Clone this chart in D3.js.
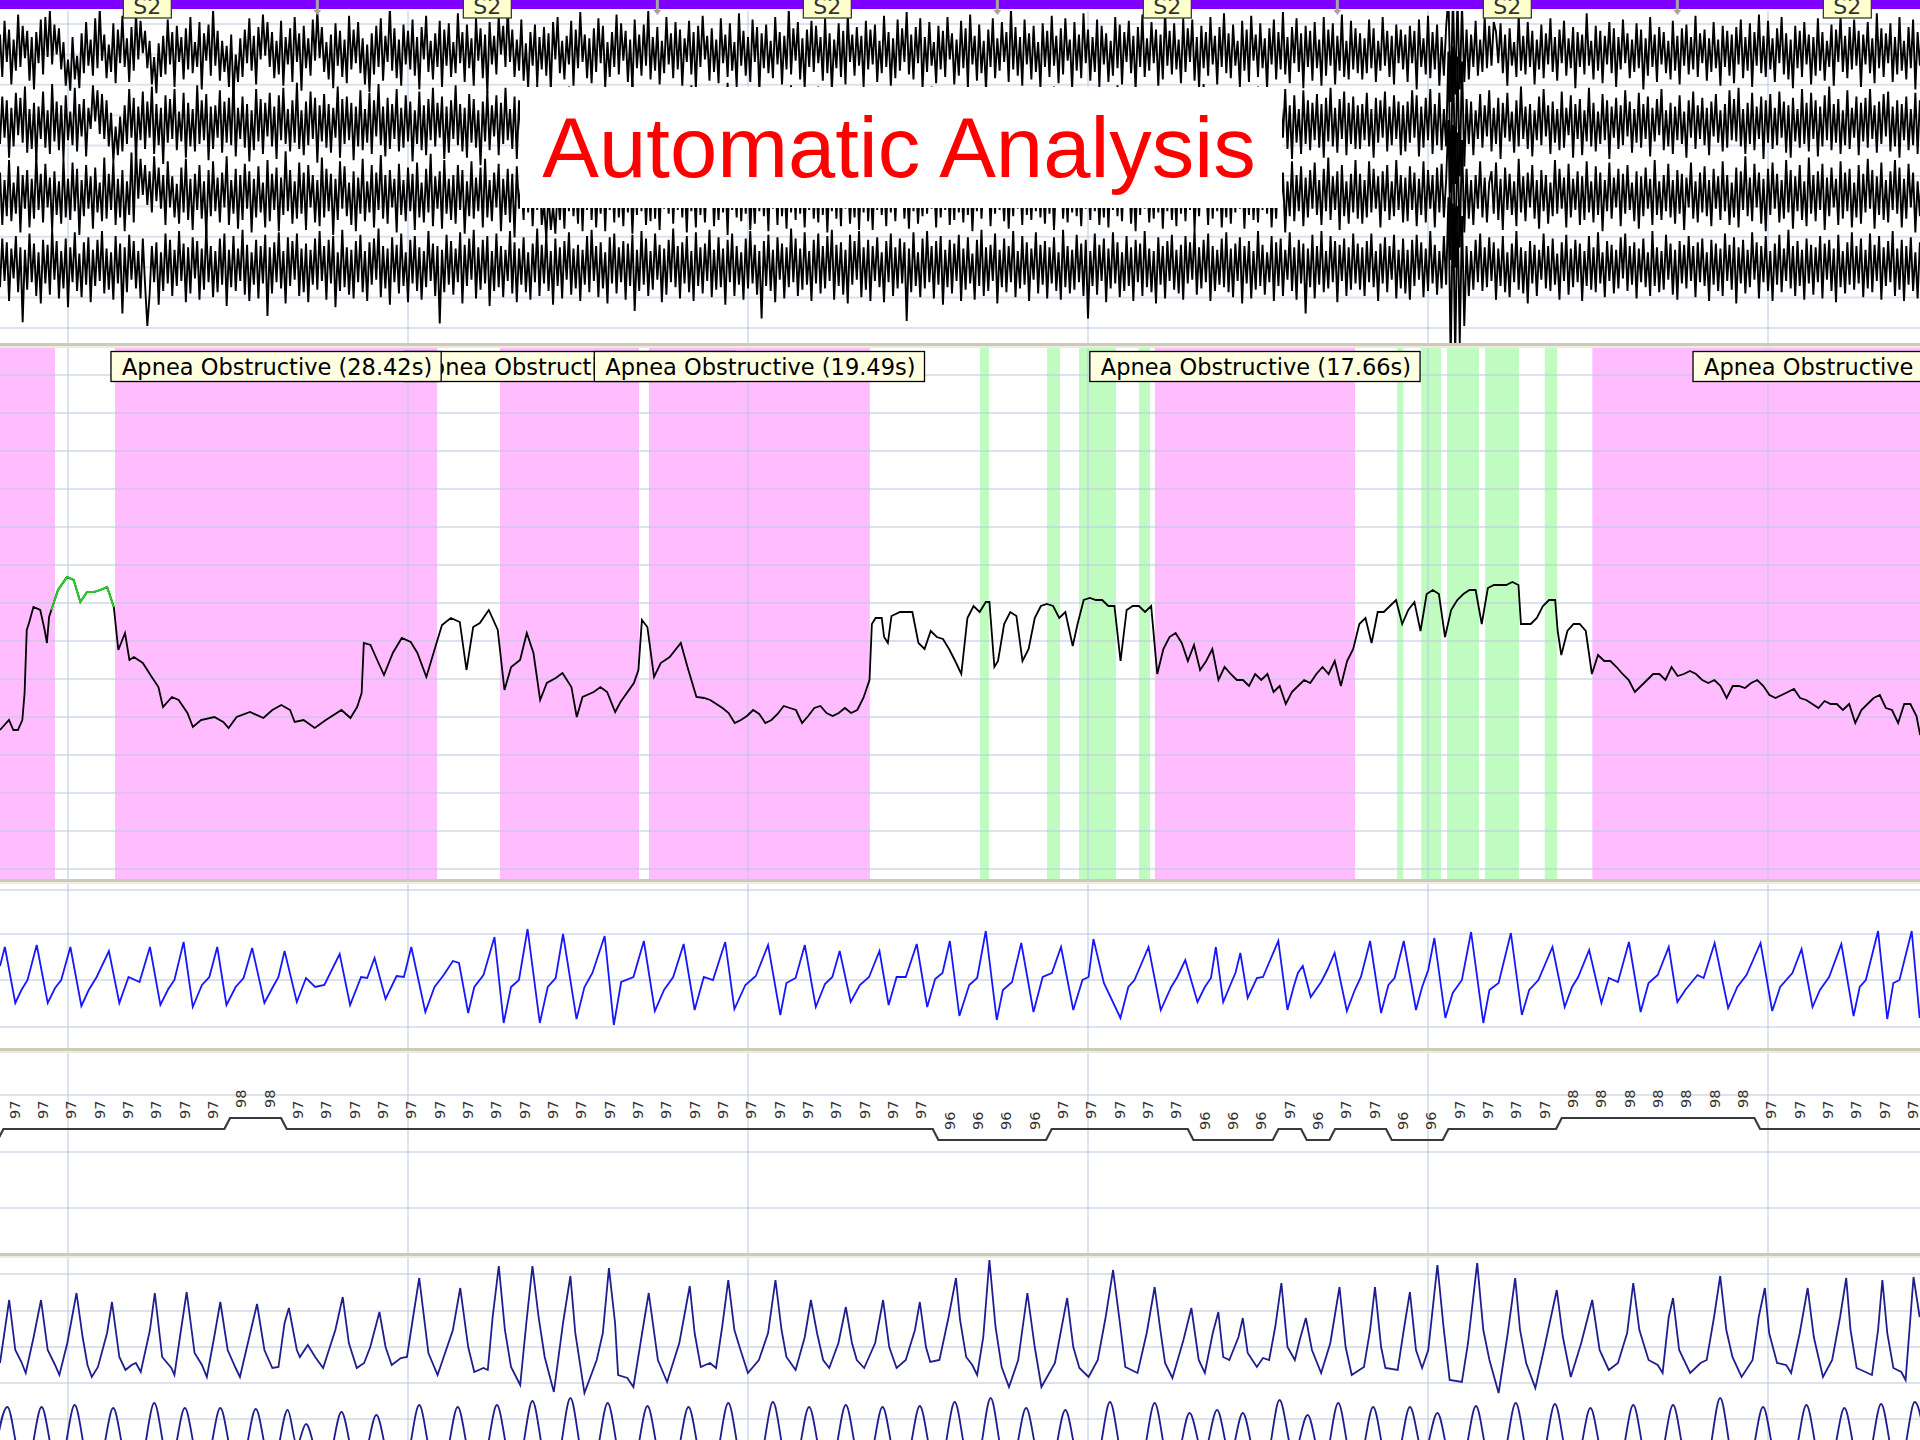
<!DOCTYPE html>
<html>
<head>
<meta charset="utf-8">
<script src="https://cdn.jsdelivr.net/npm/d3@7"></script>
<style>
html, body { margin: 0; padding: 0; background: #fff; }
svg { display: block; }
</style>
</head>
<body>
<svg id="chart" width="1920" height="1440"></svg>
<script>
// ---------------- recording data (time in seconds from the left edge) ----------------
const windowSeconds = 169.41;

// sleep staging, one label per 30 s epoch
const epochStarts = [-2, 28, 58, 88, 118, 148];
const epochStages = ["S2", "S2", "S2", "S2", "S2", "S2"];

// time grid
const gridSeconds = [6, 36, 66, 96, 126, 156];

// scored respiratory events
const apneaType = "Apnea Obstructive";
const apneaStarts = [-37.65, 10.15, 44.12, 57.26, 101.9, 140.5];
const apneaDurations = [42.5, 28.42, 12.27, 19.49, 17.66, 46.9];

// arousal markers
const arousalStarts = [86.47, 92.38, 95.21, 100.5, 123.27, 125.4, 127.68, 131.03, 136.3];
const arousalDurations = [0.79, 1.15, 3.26, 0.97, 0.53, 1.75, 2.82, 3.0, 1.1];

// nasal pressure [t, value]; the marked span is drawn in green
const flowMarkedSpan = [4.5, 10.05];
const flow = [[0,10],[0.79,20],[1.18,10],[1.58,10],[1.97,20],[2.17,47],[2.36,110],[2.56,117],[2.95,133],[3.55,130],[3.94,110],[4.14,97],[4.33,123],[4.53,130],[5.12,150],[5.91,163],[6.5,160],[7.09,138],[7.68,148],[8.27,148],[8.86,150],[9.45,153],[10.04,133],[10.44,90],[11.03,107],[11.42,80],[11.82,83],[12.6,77],[13.39,63],[13.98,53],[14.38,33],[15.17,43],[15.76,40],[16.54,27],[17.02,13],[17.73,20],[18.91,23],[19.7,18],[20.17,12],[20.88,23],[22.06,28],[23.24,22],[24.03,30],[24.82,35],[25.6,30],[26,18],[26.79,20],[27.77,12],[28.75,20],[30.13,30],[30.92,22],[31.51,33],[31.91,47],[32.1,97],[32.69,95],[33.28,80],[33.88,65],[34.66,87],[35.45,102],[36.24,98],[36.83,87],[37.62,63],[38.41,93],[39,115],[39.78,122],[40.57,118],[41.16,70],[41.75,113],[42.34,117],[43.13,130],[43.92,110],[44.51,50],[45.1,73],[45.89,80],[46.48,107],[47.07,87],[47.66,40],[48.25,57],[49.04,62],[49.63,67],[50.42,53],[50.89,23],[51.4,43],[52.39,48],[52.98,53],[53.57,48],[54.28,28],[54.75,38],[55.93,57],[56.33,70],[56.64,120],[57.12,113],[57.71,63],[58.3,77],[59.09,83],[60.07,97],[60.66,73],[61.45,43],
[62.13,42],[62.67,40],[63.21,36],[63.75,32],[64.29,27],[64.83,17],[65.37,20],[65.91,24],[66.45,30],[66.99,26],[67.53,17],[68.07,20],[68.61,26],[69.15,34],[69.69,32],[70.23,30],[70.77,17],[71.31,24],[71.85,32],[72.39,34],[72.93,27],[73.47,24],[74.01,27],[74.55,32],[75.09,27],[75.64,30],[76.18,42],[76.72,60],[76.93,116],[77.26,122],[77.8,122],[78.01,103],[78.34,97],[78.66,124],[79.42,128],[79.96,128],[80.5,128],[81.04,97],[81.58,91],[82.12,109],[82.66,103],[83.2,101],[83.74,91],[84.28,79],[84.82,66],[85.36,122],[85.9,134],[86.44,128],[86.98,138],[87.3,138],[87.74,73],[88.06,79],[88.6,116],[89.14,128],[89.68,124],[90.22,79],[90.76,91],[91.3,122],[91.84,134],[92.38,136],[92.92,134],[93.46,122],[94,128],[94.65,94],[95.08,116],[95.62,140],[96.16,142],[96.7,140],[97.25,140],[97.79,134],[98.33,134],[98.87,79],[99.41,130],[99.95,134],[100.49,134],[101.03,128],[101.57,134],[102.11,66],[102.65,91],[103.19,103],[103.73,107],[104.27,97],[104.81,79],[105.35,95],[105.89,70],[106.43,79],[106.97,91],[107.51,60],[108.05,73],[108.59,66],[109.13,60],[109.67,60],[110.21,54],[110.75,66],[111.29,60],[111.83,66],[112.37,48],[112.91,54],[113.45,36],[113.99,48],[114.53,54],[115.07,60],[115.61,57],[116.15,66],[116.69,73],[117.23,66],[117.77,79],[118.31,54],[118.86,79],[119.4,91],[119.94,116],[120.48,122],[121.02,97],[121.56,128],[122.1,128],[122.64,134],[123.18,140],[123.72,116],[124.26,130],[124.8,138],[125.34,109],[125.88,146],[126.42,150],[126.96,146],[127.5,103],[128.04,130],[128.58,140],[129.12,146],[129.66,150],[130.2,150],[130.74,116],[131.28,152],[131.82,155],[132.36,155],[132.9,155],[133.44,158],[133.98,155],[134.2,116],[135.06,116],[135.6,122],[136.14,134],[136.68,140],[137.22,140],[137.44,109],[137.76,85],[138.3,109],[138.84,116],[139.38,116],[139.92,109],[140.46,66],[141,85],[141.55,79],[142.09,79],[142.63,73],[143.17,66],[143.71,60],[144.25,48],[144.79,54],[145.33,60],[145.87,66],[146.41,66],[146.95,60],[147.49,73],[148.03,64],[148.57,66],[149.11,69],[149.65,66],[150.19,60],[150.73,57],[151.27,60],[151.81,54],[152.35,42],[152.89,54],[153.43,54],[153.97,52],[154.51,57],[155.05,60],[155.59,54],[156.13,45],[156.67,42],[157.21,45],[157.75,48],[158.29,51],[158.83,42],[159.37,40],[159.91,36],[160.45,32],[160.99,39],[161.53,36],[162.07,36],[162.61,30],[163.16,36],[163.7,17],[164.24,30],[164.78,36],[165.32,42],[165.86,45],[166.4,32],[166.94,30],[167.48,17],[168.02,36],[168.56,36],[169.1,24],[169.42,5]];

// respiratory effort (chest) [t, value]
const effort = [[0,14],[0.43,33],[1.35,-23],[1.89,-10],[2.43,0],[3.24,35],[4.21,-23],[4.86,-8],[5.4,0],[6.21,33],[7.18,-26],[7.83,-10],[8.53,3],[9.61,29],[10.53,-23],[11.34,3],[12.31,-2],[13.23,33],[14.15,-25],[14.85,-9],[15.39,0],[16.2,38],[17.01,-27],[17.82,-5],[18.47,3],[19.17,33],[19.98,-25],[20.79,-7],[21.49,2],[22.25,32],[23.33,-23],[24.03,-8],[24.57,3],[25.11,29],[26.19,-22],[27,2],[27.81,-7],[28.62,-5],[29.97,26],[30.89,-25],[31.86,3],[32.4,2],[33.05,22],[34.02,-19],[34.99,4],[35.64,3],[36.29,33],[37.53,-32],[38.34,-7],[39.15,5],[39.96,19],[40.5,17],[41.31,-33],[41.85,-7],[42.66,5],[43.63,43],[44.44,-43],[45.09,-7],[45.79,0],[46.55,51],[47.63,-43],[48.33,-7],[49.03,2],[49.68,46],[50.87,-39],[51.57,-7],[52.27,7],[53.35,44],[54.16,-45],[54.81,-2],[55.89,3],[56.81,39],[57.78,-31],[58.59,-10],[59.4,3],[60.32,36],[61.29,-30],[62.1,3],[62.91,0],[63.99,38],[64.8,-29],[65.77,-5],[66.69,4],[67.77,35],[68.85,-35],[69.39,-3],[70.2,2],[71.01,35],[71.98,-27],[72.79,-4],[73.44,3],[74.09,29],[75.06,-22],[75.87,-5],[76.68,3],[77.6,29],[78.41,-25],[79.11,3],[79.92,3],[80.89,36],[81.81,-27],[82.51,1],[83.16,7],[83.81,39],[84.65,-36],[85.52,-5],[86.22,2],[86.98,49],[87.95,-40],[88.49,-10],[89.3,-2],[90.11,37],[91.19,-32],[92,3],[92.81,7],[93.62,33],[94.7,-30],[95.51,0],[96.05,3],[96.48,41],[97.4,-3],[98.86,-38],[99.56,-7],[100.1,0],[101.34,33],[102.42,-30],[103.34,-7],[103.88,3],[104.58,20],[105.66,-22],[106.31,-7],[106.85,2],[107.28,33],[107.93,-22],[108.74,0],[109.01,7],[109.44,27],[110.09,-18],[110.9,2],[111.44,3],[112.79,39],[113.6,-30],[114.14,-7],[114.52,7],[114.95,14],[115.65,-17],[116.57,-2],[117.11,10],[117.76,27],[118.84,-31],[119.54,-10],[120.08,3],[120.89,39],[121.86,-33],[122.51,-5],[123.05,2],[123.86,39],[124.94,-30],[125.48,-7],[126.02,10],[126.56,42],[127.53,-38],[128.18,-13],[128.99,0],[129.8,48],[130.88,-43],[131.42,-10],[132.23,-3],[133.31,47],[134.28,-35],[134.93,-10],[135.74,0],[136.98,33],[138.06,-27],[138.71,-7],[139.25,3],[140.22,30],[141.3,-23],[141.95,2],[142.76,-2],[143.73,38],[144.76,-32],[145.46,-3],[146.27,5],[147.24,33],[148,-22],[148.7,-10],[149.78,5],[150.32,2],[151.29,37],[152.48,-28],[153.29,-7],[154.1,5],[155.34,37],[156.37,-31],[157.07,-7],[158.15,7],[158.96,31],[159.93,-27],[160.58,-10],[161.39,3],[162.47,36],[163.55,-36],[164.09,-7],[164.63,0],[165.71,49],[166.52,-39],[167.06,-3],[167.6,0],[168.68,49],[169.38,-38]];

// oxygen saturation (%), one reading every 2.5 s
const spo2Start = -1.2;
const spo2Step = 2.5;
const spo2Values = [96,
  97,97,97,97,97,97,97,97, 98,98,
  97,97,97,97,97,97,97,97,97,97,97,97,97,97,97,97,97,97,97,97,97,97,97,
  96,96,96,96, 97,97,97,97,97, 96,96,96, 97, 96, 97,97, 96,96, 97,97,97,97,
  98,98,98,98,98,98,98, 97,97,97,97,97,97];

// thoracic belt [t, value]
const thorax = [[0,-3],[0.81,60],[1.35,10],[1.89,-2],[2.27,-13],[2.97,23],[3.62,60],[4.21,10],[4.86,-5],[5.24,-15],[5.94,17],[6.75,67],[7.29,23],[7.72,-5],[8.1,-17],[8.64,-7],[9.45,27],[9.88,58],[10.53,3],[11.07,-10],[11.61,-5],[11.99,-3],[12.42,-12],[13.23,30],[13.66,67],[14.31,3],[15.12,-8],[15.39,-15],[15.93,27],[16.47,68],[17.17,7],[17.82,-5],[18.25,-17],[18.9,23],[19.44,58],[20.09,10],[20.79,-8],[21.17,-17],[22.14,30],[22.68,56],[23.33,10],[24.03,-8],[24.57,-7],[25.11,37],[25.49,52],[26.19,10],[26.46,3],[27.16,15],[27.81,3],[28.51,-8],[29.59,30],[30.24,63],[30.78,17],[31.48,-8],[32.13,-3],[32.67,13],[33.48,48],[34.02,13],[34.56,-5],[35.37,2],[35.91,3],[36.45,43],[36.99,82],[37.8,7],[38.61,-15],[39.96,30],[40.61,72],[41.31,13],[41.85,-12],[42.66,-8],[43.04,-10],[43.47,43],[44.01,94],[44.55,30],[45.09,-7],[45.9,-25],[46.44,37],[46.98,94],[47.52,43],[48.06,3],[48.87,-32],[49.68,37],[50.33,84],[50.76,27],[51.57,-33],[52.65,0],[53.19,27],[53.73,92],[54.27,37],[54.54,-15],[55.35,-18],[55.89,-27],[56.7,30],[57.24,67],[58.05,0],[58.86,-22],[59.94,17],[60.86,74],[61.29,27],[61.83,-7],[62.64,-3],[63.18,-8],[63.72,33],[64.26,80],[64.8,30],[65.34,10],[65.99,-13],[66.96,0],[67.77,27],[68.42,80],[68.96,30],[69.39,3],[70.2,-10],[71.01,23],[71.55,60],[72.09,27],[72.63,0],[73.17,-8],[73.98,17],[74.63,53],[75.17,17],[75.6,0],[76.25,-8],[77.22,17],[77.92,60],[78.46,13],[79.11,-8],[79.92,0],[80.73,30],[81.16,58],[81.7,13],[82.08,-2],[82.89,0],[83.7,43],[84.35,82],[84.71,40],[85.25,3],[85.79,-5],[86.22,-15],[86.76,23],[87.3,100],[87.84,33],[88.38,-7],[89.03,-27],[89.84,0],[90.65,67],[91.3,13],[91.89,-27],[93.08,-3],[94.16,62],[94.7,13],[95.24,-8],[96.05,-17],[96.86,0],[97.56,43],[98.21,90],[98.86,33],[99.29,-7],[100.37,-13],[101.18,27],[101.88,73],[102.42,27],[102.8,-3],[103.45,-18],[104.42,20],[105.12,52],[105.77,0],[106.31,-13],[107.01,27],[107.5,48],[107.93,3],[108.47,0],[109.28,23],[109.66,42],[110.09,7],[110.9,-7],[111.44,2],[111.98,0],[112.52,33],[113.06,77],[113.6,13],[114.25,0],[114.68,20],[115.22,42],[115.76,10],[116.57,-13],[117.38,17],[118.19,73],[118.73,13],[119.27,-15],[120.35,-7],[120.89,30],[121.32,73],[121.86,13],[122.24,-8],[123.32,-10],[123.86,30],[124.4,68],[124.94,10],[125.48,-8],[126.02,10],[126.83,95],[127.37,33],[127.91,-20],[128.99,-22],[129.53,17],[130.34,97],[130.88,30],[131.42,0],[132.23,-33],[133.04,27],[133.69,82],[134.12,30],[134.66,-3],[135.47,-28],[136.28,13],[137.36,70],[137.9,23],[138.6,-17],[139.52,17],[140.49,60],[141.14,10],[141.95,-10],[142.76,-3],[143.57,27],[144.11,77],[144.65,30],[145.46,0],[146.27,-5],[146.7,-13],[147.24,43],[147.62,62],[148.16,10],[149.13,-13],[150.05,-3],[150.59,0],[151.24,43],[151.78,84],[152.32,30],[152.86,3],[153.67,-17],[154.64,0],[155.18,43],[155.72,72],[156.1,27],[156.8,-3],[157.61,-5],[158.04,-13],[158.8,27],[159.5,72],[160.04,23],[160.85,-17],[161.66,0],[162.36,43],[162.9,82],[163.28,30],[163.82,-8],[165.17,-15],[165.71,30],[166.09,80],[166.52,27],[167.06,-8],[167.76,-12],[168.14,-20],[168.84,83],[169.38,43]];

// abdominal belt, peaks with their flanks [t, value]
const abdomen = [[-0.55,-40],[0.65,13],[1.85,-40],[2.47,-40],[3.67,13],[4.87,-40],[5.39,-40],[6.59,15],[7.79,-40],[8.79,-40],[9.99,12],[11.19,-40],[12.41,-40],[13.61,17],[14.81,-40],[15.11,-40],[16.31,12],[17.51,-40],[18.24,-40],[19.44,12],[20.64,-40],[21.37,-40],[22.57,11],[23.77,-40],[24.18,-40],[25.38,10],[26.19,-25],[27.0,-4],[28.2,-40],[28.93,-40],[30.13,8],[31.33,-40],[32.01,-40],[33.21,5],[34.41,-40],[35.79,-40],[36.99,15],[38.19,-40],[39.19,-40],[40.39,13],[41.59,-40],[42.65,-40],[43.85,15],[45.05,-40],[45.78,-40],[46.98,19],[48.18,-40],[49.13,-40],[50.33,22],[51.53,-40],[52.42,-40],[53.62,17],[54.82,-40],[55.93,-40],[57.13,14],[58.33,-40],[59.55,-40],[60.75,13],[61.95,-40],[63.06,-40],[64.26,17],[65.46,-40],[67.0,-40],[68.2,18],[69.4,-40],[70.19,-40],[71.39,13],[72.59,-40],[73.43,-40],[74.63,15],[75.83,-40],[76.67,-40],[77.87,13],[79.07,-40],[79.96,-40],[81.16,14],[82.36,-40],[83.04,-40],[84.24,18],[85.44,-40],[86.21,-40],[87.41,22],[88.61,-40],[89.34,-40],[90.54,12],[91.74,-40],[92.8,-40],[94.0,10],[95.2,-40],[96.74,-40],[97.94,18],[99.14,-40],[100.68,-40],[101.88,17],[103.08,-40],[103.76,-40],[104.96,7],[106.18,-35],[107.39,10],[108.53,-35],[109.66,7],[110.86,-40],[111.7,-40],[112.9,20],[114.14,-35],[115.38,5],[116.58,-40],[116.88,-40],[118.08,17],[119.28,-40],[119.96,-40],[121.16,13],[122.36,-40],[123.2,-40],[124.4,13],[125.6,-35],[126.83,7],[128.03,-40],[129.03,-40],[130.23,14],[131.43,-40],[132.54,-40],[133.74,17],[134.94,-40],[136.0,-40],[137.2,16],[138.4,-40],[139.13,-40],[140.33,12],[141.53,-40],[142.91,-40],[144.11,15],[145.31,-40],[146.42,-40],[147.62,15],[148.82,-40],[150.58,-40],[151.78,22],[152.98,-40],[154.36,-40],[155.56,13],[156.76,-40],[158.19,-40],[159.39,15],[160.59,-40],[161.54,-40],[162.74,12],[163.94,-40],[164.78,-40],[165.98,16],[167.18,-40],[167.75,-40],[168.95,18],[170.15,-40]];

// EEG, four derivations, successive extremes at 5 per second (µV)
const eegRate = 5;
const eeg1 = [14,-20,25,-8,18,-26,10,-15,30,-12,21,-5,17,-23,12,-30,16,-9,26,-18,
28,-4,33,-10,22,-2,19,-14,8,-27,-6,-31,12,-22,-3,-29,15,-17,24,-11,
10,-19,27,-13,35,-7,14,-21,6,-16,23,-25,18,-9,29,-12,11,-24,20,-15,
31,-6,25,-1,17,-13,9,-26,-4,-33,7,-20,13,-18,26,-10,16,-28,21,-8,
12,-22,19,-14,28,-17,8,-12,24,-30,15,-7,22,-19,34,-11,17,-23,9,-16,
5,-28,14,-35,-2,-24,11,-20,18,-9,27,-15,13,-26,20,-6,30,-3,24,-12,
16,-21,9,-18,25,-27,12,-10,19,-24,28,-8,15,-31,21,-13,11,-19,26,-7,
33,-5,20,-16,8,-22,14,-29,23,-11,17,-20,10,-25,29,-14,18,-9,24,-17,
11,-26,6,-32,15,-18,21,-12,27,-23,13,-8,36,-15,19,-21,10,-27,22,-10,
17,-14,26,-19,12,-30,20,-6,29,-16,9,-22,15,-12,25,-28,18,-11,23,-20,
8,-17,31,-9,16,-24,22,-13,11,-27,27,-7,19,-21,14,-33,24,-10,13,-18,
29,-2,21,-12,35,-8,18,-20,10,-15,26,-23,7,-29,16,-11,22,-26,12,-14,
20,-19,15,-31,24,-6,28,-17,9,-22,13,-10,25,-27,18,-13,32,-8,14,-21,
11,-25,19,-16,27,-9,21,-28,8,-20,16,-12,30,-18,23,-7,17,-24,10,-30,
26,-13,14,-19,22,-11,33,-22,12,-15,20,-26,9,-17,28,-10,15,-21,24,-14,
18,-27,11,-8,25,-18,16,-30,21,-12,29,-6,13,-23,19,-16,10,-25,27,-9,
14,-20,23,-15,8,-28,31,-11,17,-19,12,-24,26,-8,20,-32,15,-13,22,-17,
9,-21,28,-10,16,-26,13,-14,34,-18,19,-7,24,-22,11,-29,18,-12,25,-16,
21,-9,12,-23,27,-17,15,-31,10,-13,23,-20,17,-26,30,-8,14,-19,20,-11,
13,-28,25,-14,18,-10,22,-24,9,-17,29,-12,16,-27,11,-21,26,-15,19,-8,
32,-18,14,-22,20,-9,27,-30,12,-16,24,-11,8,-25,21,-14,17,-20,28,-6,
15,-26,10,-19,25,-13,19,-28,30,-10,13,-23,22,-17,9,-31,18,-12,27,-21,
11,-15,24,-8,16,-24,35,-14,20,-19,12,-27,26,-10,15,-22,21,-16,8,-29,
23,-12,17,-20,29,-11,13,-25,19,-18,27,-7,10,-30,24,-15,14,-21,31,-9,
18,-23,12,-16,26,-28,21,-10,15,-24,9,-19,28,-13,22,-26,16,-8,25,-17,
13,-31,20,-12,30,-20,11,-15,24,-9,18,-27,14,-22,33,-11,17,-18,23,-14,
10,-25,27,-16,19,-8,26,-23,12,-29,21,-13,16,-19,28,-10,13,-26,20,-12,
31,-17,15,-21,22,-11,9,-28,25,-15,18,-24,29,-7,14,-20,23,-13,11,-30,
19,-10,26,-22,16,-14,32,-18,12,-25,20,-9,27,-16,15,-29,21,-12,17,-23,
24,-13,10,-27,28,-19,18,-11,23,-26,13,-15,30,-20,9,-22,25,-14,19,-17,
15,-22,11,-17,26,-13,19,-24,9,-15,28,-11,17,-20,13,-26,22,-9,18,-14,
14,-24,21,-9,17,-30,26,-12,11,-18,29,-21,16,-14,22,-27,12,-19,20,44,
-40,46,-34,42,-30,38,-24,18,-22,14,-12,25,-19,10,-16,28,-13,21,-11,24,
16,-9,23,-17,14,-27,19,-11,8,-20,30,-15,13,-18,24,-12,17,-26,10,-14,
22,-21,15,-10,27,-16,12,-23,18,-9,25,-19,11,-13,20,-29,16,-12,14,-18,
31,-11,9,-22,21,-15,17,-25,13,-10,24,-17,19,-28,12,-14,26,-9,15,-21,
10,-16,23,-13,18,-30,11,-19,28,-12,14,-24,20,-10,16,-17,9,-22,25,-15,
13,-26,19,-11,22,-18,12,-14,29,-20,15,-9,18,-23,11,-16,24,-13,10,-27,
21,-12,17,-19,14,-25,20,-10,26,-21,12,-15,23,-28,16,-11,30,-17,13,-20,
25,-14,11,-24,19,-9,28,-18,15,-22,10,-29,21,-13,17,-20,24,-10,14,-26,
12,-19,27,-15,16,-23,9,-12,22,-27,18,-8,29,-16,13,-21,20,-14,26,-11,
17,-28,14,-10,24,-17,11,-25,31,-13,19,-20,15,-9,23,-24,12,-18,28,-15,
9,-22,20,-13,26,-30,16,-11,21,-19,13,-26,27,-12,18,-15,10,-23,25,-17];
const eeg2 = [-16,22,-11,19,-27,13,-18,25,-9,21,-15,30,-23,12,-20,17,-29,14,-12,26,
-19,11,-24,32,-14,18,-21,15,-28,23,-13,10,-17,29,-22,16,-10,20,-26,13,
-4,31,2,27,-8,24,-12,19,-18,9,-30,-2,-25,6,-22,15,-16,28,-11,21,
-28,14,-13,26,-20,18,-11,30,-24,16,-17,13,-32,23,-15,20,-12,28,-21,10,
-14,25,-27,17,-18,12,-22,31,-16,19,-13,24,-29,14,-20,15,-11,27,-23,18,
-15,21,-17,36,-26,13,-12,22,-19,16,-30,11,-21,28,-14,20,-24,17,-10,25,
-18,14,-28,23,-13,29,-16,12,-22,19,-15,33,-20,11,-25,18,-17,26,-12,21,
-31,15,-14,24,-19,16,-23,13,-11,30,-27,20,-16,22,-13,17,-29,14,-18,27,
-21,12,-15,25,-24,19,-10,32,-17,14,-26,21,-20,16,-12,28,-22,13,-19,23,
-14,18,-30,11,-16,26,-21,15,-25,20,-13,29,-18,17,-11,22,-28,14,-23,19,
-12,31,-17,16,-22,13,-27,24,-15,20,-19,11,-33,18,-14,26,-21,15,-10,23,
-25,17,-16,29,-13,12,-20,22,-28,19,-11,27,-18,14,-24,16,-15,32,-22,13,
-17,21,-29,15,-12,25,-19,18,-26,11,-14,30,-23,17,-16,20,-31,14,-13,24,
-18,22,-11,28,-20,16,-27,13,-15,19,-24,26,-12,17,-30,21,-14,15,-22,35,
-17,12,-19,23,-26,18,-13,29,-21,14,-16,25,-28,11,-18,20,-23,16,-12,27,
-20,15,-25,22,-14,31,-17,13,-29,19,-11,24,-22,18,-15,28,-26,12,-19,21,
-13,33,-18,16,-24,14,-21,27,-12,20,-30,15,-16,23,-27,17,-14,29,-20,11,
-23,18,-15,26,-28,13,-17,22,-12,31,-19,16,-25,14,-21,20,-13,27,-24,17,
-11,30,-18,15,-26,21,-16,24,-14,19,-29,12,-20,28,-22,16,-17,25,-13,18,
-23,14,-19,27,-15,22,-30,16,-13,24,-18,19,-26,12,-21,29,-16,15,-24,20,
-12,25,-20,17,-28,14,-15,23,-22,11,-17,30,-14,19,-25,16,-11,27,-19,21,
-27,13,-16,24,-21,18,-13,31,-24,15,-18,22,-12,28,-29,17,-15,20,-23,14,
-19,26,-11,21,-25,16,-30,19,-14,27,-17,12,-22,24,-16,18,-28,13,-20,29,
-15,17,-24,22,-12,30,-19,14,-27,20,-13,25,-21,16,-17,28,-10,23,-26,15,
-22,19,-14,27,-18,13,-29,21,-16,24,-11,18,-25,31,-20,15,-13,26,-23,17,
-16,22,-28,14,-19,25,-12,20,-24,16,-17,29,-21,13,-15,23,-30,18,-11,27,
-24,15,-13,21,-20,28,-17,12,-26,19,-14,32,-22,16,-18,24,-11,20,-27,14,
-18,27,-23,17,-12,22,-29,15,-16,26,-21,13,-25,19,-14,30,-19,16,-13,21,
-26,14,-17,25,-22,18,-11,28,-20,15,-28,23,-15,12,-24,27,-16,19,-21,17,
-13,24,-19,16,-27,21,-14,29,-18,13,-23,20,-12,26,-25,17,-16,22,-20,15,
-20,16,-13,25,-18,12,-27,21,-15,19,-11,26,-22,14,-17,23,-12,18,-25,15,
-22,18,-15,27,-11,23,-26,14,-19,21,-13,28,-24,16,-17,25,-21,12,-18,58,
-55,62,-48,54,-42,50,-34,20,-16,18,-25,11,-12,24,-19,15,-10,27,-22,13,
-16,21,-28,17,-11,25,-14,10,-23,19,-18,30,-12,14,-20,16,-26,11,-13,22,
-17,28,-10,15,-24,18,-15,12,-21,26,-19,13,-9,23,-27,16,-12,20,-25,11,
-14,29,-18,17,-22,10,-16,24,-13,19,-28,14,-11,21,-20,15,-17,27,-10,18,
-23,12,-15,25,-19,16,-12,22,-26,13,-14,20,-9,28,-21,11,-18,17,-24,14,
-13,23,-16,10,-27,19,-11,26,-20,15,-12,21,-17,13,-25,18,-10,24,-15,11,
-22,16,-19,27,-13,20,-14,29,-18,12,-24,17,-16,25,-21,14,-12,22,-28,19,
-15,24,-20,13,-17,26,-11,18,-23,15,-27,21,-14,12,-19,28,-16,17,-22,25,
-12,19,-26,14,-18,23,-13,30,-21,16,-15,20,-24,11,-17,27,-20,13,-11,22,
-25,17,-14,21,-19,28,-12,15,-23,18,-16,24,-10,26,-22,14,-18,19,-27,16,
-13,22,-21,12,-17,25,-24,19,-11,27,-15,14,-20,23,-26,16,-12,21,-18,29];
const eeg3 = [18,-24,12,-17,28,-21,10,-15,23,-30,16,-11,20,-26,13,-19,32,-12,17,-22,
25,-10,14,-28,19,-16,11,-23,29,-18,13,-20,26,-13,21,-32,12,-17,24,-11,
15,-27,22,-14,10,-21,30,-19,17,-12,27,-24,13,-18,20,-29,11,-16,34,-22,
38,-3,29,0,24,-8,19,-14,31,-5,22,-11,16,-24,27,-10,15,-18,9,-23,
22,-14,29,-20,13,-28,17,-12,24,-19,11,-33,20,-17,27,-13,14,-22,18,-10,
31,-24,12,-15,21,-27,16,-20,25,-11,19,-30,13,-18,23,-14,10,-26,28,-21,
17,-12,22,-29,14,-16,35,-13,20,-23,11,-19,26,-15,18,-28,24,-10,16,-22,
12,-25,30,-18,21,-13,17,-32,13,-20,27,-11,23,-17,10,-24,19,-29,14,-15,
29,-21,11,-14,24,-26,18,-12,32,-19,16,-23,20,-10,13,-30,25,-16,12,-21,
22,-13,17,-28,26,-18,10,-22,21,-14,33,-25,15,-11,19,-27,28,-15,13,-20,
16,-23,24,-12,20,-31,11,-17,27,-19,14,-13,22,-26,29,-18,12,-21,18,-10,
25,-29,13,-16,21,-22,17,-34,23,-11,10,-20,30,-14,19,-25,16,-12,26,-24,
-6,-35,2,-28,-9,-31,5,-20,14,-27,20,-13,24,-17,11,-23,25,-29,21,-12,
27,-20,18,-26,10,-15,25,-29,21,-12,16,-22,29,-18,11,-25,23,-14,19,-31,
14,-16,26,-13,20,-24,12,-21,31,-19,17,-28,22,-11,13,-15,28,-23,18,-12,
24,-18,15,-30,21,-13,11,-26,29,-16,15,-22,19,-10,27,-25,12,-20,23,-14,
16,-32,25,-12,13,-18,30,-21,18,-15,22,-28,10,-23,26,-13,20,-17,14,-29,
28,-11,16,-24,21,-17,12,-27,23,-14,19,-20,32,-15,13,-26,17,-12,25,-19,
11,-22,27,-16,18,-30,14,-13,24,-19,20,-25,29,-11,15,-23,12,-18,22,-28,
19,-14,24,-21,13,-28,22,-12,17,-16,11,-25,29,-14,15,-21,18,-10,24,-19,
12,-27,20,-13,16,-23,10,-17,28,-15,21,-11,14,-26,25,-18,13,-12,19,-24,
15,-20,27,-14,11,-22,23,-16,18,-29,12,-13,26,-19,14,-10,21,-25,17,-15,
24,-12,10,-21,19,-27,15,-17,22,-11,13,-24,28,-16,11,-20,16,-13,25,-18,
12,-23,20,-15,17,-28,14,-10,26,-19,11,-22,18,-14,23,-17,12,-25,21,-11,
15,-20,27,-13,16,-24,10,-18,22,-26,19,-12,31,-17,14,-21,25,-10,18,-23,
13,-29,21,-16,26,-11,17,-22,12,-19,28,-14,20,-27,15,-13,24,-20,11,-25,
30,-15,16,-21,19,-12,25,-28,14,-17,22,-10,13,-24,27,-19,18,-13,21,-26,
10,-18,24,-23,17,-14,29,-11,20,-27,15,-16,26,-20,12,-22,19,-12,28,-15,
22,-26,13,-19,25,-10,18,-30,11,-17,27,-21,16,-13,23,-25,14,-18,20,-11,
26,-16,12,-24,21,-13,30,-20,15,-12,19,-28,24,-17,11,-23,17,-14,28,-19,
17,-23,12,-18,27,-14,21,-11,15,-26,19,-13,24,-20,11,-17,28,-12,16,-22,
14,-21,23,-12,18,-25,13,-16,27,-22,20,-11,16,-26,22,-14,25,-18,12,60,
-52,56,-58,50,-42,44,-30,21,-19,12,-24,16,-11,27,-18,14,-22,10,19,-15,
26,-20,13,-28,22,-12,17,-16,11,-25,29,-14,15,-21,18,-10,24,-19,12,-27,
20,-13,16,-23,10,-17,28,-15,21,-11,14,-26,25,-18,13,-12,19,-24,15,-20,
27,-14,11,-22,23,-16,18,-29,12,-13,26,-19,14,-10,21,-25,17,-15,24,-12,
10,-21,19,-27,15,-17,22,-11,13,-24,28,-16,11,-20,16,-13,25,-18,12,-23,
20,-15,17,-28,14,-10,26,-19,11,-22,18,-14,23,-17,12,-25,21,-11,15,-20,
27,-13,16,-24,10,-18,22,-26,19,-12,31,-17,14,-21,25,-10,18,-23,13,-29,
21,-16,26,-11,17,-22,12,-19,28,-14,20,-27,15,-13,24,-20,11,-25,30,-15,
16,-21,19,-12,25,-28,14,-17,22,-10,13,-24,27,-19,18,-13,21,-26,10,-18,
24,-23,17,-14,29,-11,20,-27,15,-16,26,-20,12,-22,19,-12,28,-15,22,-26,
13,-19,25,-10,18,-30,11,-17,27,-21,16,-13,23,-25,14,-18,20,-11,26,-16];
const eeg4 = [-17,22,-12,19,-28,14,-10,24,-21,15,-45,13,-19,26,-13,18,-24,11,-30,21,
-14,17,-23,29,-11,20,-26,12,-18,22,-33,15,-13,27,-20,10,-25,19,-15,23,
-29,13,-16,21,-12,28,-22,14,-19,11,-27,24,-14,18,-38,15,-21,25,-11,20,
-18,12,-26,22,-15,-48,-23,16,-13,19,-31,11,-20,26,-14,21,-24,13,-16,28,
-12,18,-29,15,-22,23,-10,20,-27,14,-19,31,-13,16,-25,12,-21,22,-15,26,
-32,13,-17,24,-20,14,-12,29,-23,17,-28,11,-15,21,-26,16,-14,25,-40,15,
-22,19,-13,27,-18,12,-30,23,-16,20,-11,26,-24,14,-21,18,-29,13,-15,22,
-19,28,-12,16,-27,21,-14,24,-33,11,-20,29,-17,15,-23,13,-26,20,-13,25,
-21,12,-28,19,-15,22,-11,30,-25,16,-18,14,-31,23,-13,17,-22,26,-16,11,
-29,21,-14,24,-20,15,-27,12,-17,28,-12,18,-24,16,-46,13,-21,25,-15,20,
-23,14,-13,27,-30,17,-16,22,-11,29,-26,15,-19,21,-14,24,-32,12,-20,26,
-17,16,-25,13,-12,28,-22,19,-29,14,-15,23,-21,11,-27,18,-13,30,-24,17,
-14,25,-20,12,-31,22,-16,15,-26,20,-11,27,-23,14,-18,17,-28,13,-15,24,
-21,29,-12,16,-25,19,-18,11,-30,23,-14,26,-22,15,-13,20,-27,18,-16,25,
-36,13,-20,28,-15,22,-24,12,-19,26,-11,17,-29,14,-23,21,-13,30,-17,16,
-26,19,-14,24,-21,12,-28,27,-16,15,-22,18,-12,29,-25,13,-19,23,-17,14,
-31,21,-13,26,-24,16,-15,11,-27,22,-18,28,-14,17,-23,12,-42,20,-16,25,
-20,13,-29,23,-11,18,-26,15,-17,30,-13,22,-24,14,-19,27,-15,12,-28,21,
-14,26,-22,16,-18,24,-12,29,-27,17,-16,19,-23,13,-30,25,-15,20,-11,28,
-25,15,-19,21,-28,16,-12,23,-17,11,-29,20,-13,26,-24,15,-18,22,-14,19,
-44,14,-21,27,-16,11,-25,22,-18,28,-13,16,-26,20,-15,24,-31,13,-17,21,
-22,18,-12,25,-28,14,-19,23,-14,10,-27,21,-16,29,-24,15,-20,17,-12,26,
-30,13,-17,22,-21,16,-13,28,-25,12,-18,24,-15,19,-28,14,-11,27,-22,17,
-15,20,-26,15,-14,23,-20,11,-27,29,-17,16,-22,13,-19,25,-13,18,-24,21,
-42,12,-16,26,-23,17,-12,22,-29,14,-18,27,-14,19,-25,11,-20,24,-16,15,
-28,21,-13,18,-24,28,-17,14,-21,12,-30,23,-15,16,-26,20,-12,25,-19,13,
-22,17,-27,24,-14,19,-11,29,-23,15,-18,21,-13,26,-28,16,-20,13,-15,22,
-17,27,-21,14,-25,18,-12,23,-30,16,-14,20,-26,12,-19,28,-16,17,-23,11,
-13,24,-28,19,-16,22,-24,13,-11,27,-20,15,-27,21,-14,18,-38,14,-17,25,
-26,16,-15,28,-21,12,-18,24,-13,20,-29,17,-12,22,-24,15,-19,26,-14,18,
-19,15,-24,20,-13,26,-17,12,-28,18,-14,23,-21,16,-11,25,-26,13,-18,22,
-22,13,-27,21,-16,25,-11,19,-25,14,-20,28,-14,17,-23,12,-18,24,-15,55,
-75,50,-72,48,-62,40,-48,16,-24,12,-19,21,-13,26,-20,15,-17,23,-12,19,
-27,14,-16,24,-21,11,-25,18,-13,28,-19,15,-22,12,-30,20,-14,17,-24,13,
-11,26,-18,16,-20,22,-15,10,-27,19,-12,25,-23,14,-17,21,-13,18,-28,12,
-16,24,-19,15,-21,27,-14,11,-25,20,-12,17,-22,13,-18,23,-10,26,-20,16,
-15,19,-26,14,-13,22,-17,11,-24,28,-16,15,-21,12,-19,25,-11,18,-23,13,
-27,20,-14,17,-18,24,-12,16,-25,19,-13,22,-16,11,-28,21,-15,18,-20,14,
-24,26,-12,17,-19,23,-30,15,-14,21,-22,13,-17,27,-11,19,-26,16,-13,24,
-20,12,-28,18,-15,25,-21,14,-12,29,-18,16,-24,20,-16,13,-27,22,-14,17,
-23,15,-13,24,-26,18,-11,21,-20,14,-29,25,-17,12,-22,19,-15,27,-19,16,
-14,22,-25,13,-18,26,-21,17,-12,24,-27,15,-16,20,-13,28,-24,14,-19,21,
-28,16,-15,23,-20,11,-26,19,-14,27,-17,13,-23,22,-12,18,-25,15,-21,24];

const titleText = "Automatic Analysis";

// ---------------- layout ----------------
const W = 1920, H = 1440;
const svg = d3.select("#chart");
const x = d3.scaleLinear().domain([0, windowSeconds]).range([0, W]);

const panels = {
  eeg:    { top: 11,   bottom: 343,  grid: d3.range(11).map(k => 24 + 30.4 * k) },
  flow:   { top: 348,  bottom: 879,  grid: d3.range(14).map(k => 375 + 38 * k) },
  effort: { top: 884,  bottom: 1048, grid: [890, 934, 980, 1027] },
  spo2:   { top: 1053, bottom: 1253, grid: [1095, 1152, 1208] },
  belts:  { top: 1258, bottom: 1440, grid: [1274, 1311, 1347, 1383, 1419] }
};
const dividers = [343, 879, 1048, 1253];
const gridStroke = "rgba(185,200,222,0.5)";

svg.append("rect").attr("width", W).attr("height", H).attr("fill", "#fff");

const defs = svg.append("defs");
Object.entries(panels).forEach(([k, p]) => {
  defs.append("clipPath").attr("id", "clip-" + k)
    .append("rect").attr("x", 0).attr("y", p.top).attr("width", W).attr("height", p.bottom - p.top);
});

// ---------------- event shading in the airflow panel ----------------
const bands = svg.append("g").attr("clip-path", "url(#clip-flow)");
bands.selectAll("rect.apnea").data(apneaStarts).join("rect")
  .attr("class", "apnea")
  .attr("x", d => x(d))
  .attr("width", (d, i) => x(d + apneaDurations[i]) - x(d))
  .attr("y", panels.flow.top).attr("height", panels.flow.bottom - panels.flow.top)
  .attr("fill", "#ffbdff");
bands.selectAll("rect.arousal").data(arousalStarts).join("rect")
  .attr("class", "arousal")
  .attr("x", d => x(d))
  .attr("width", (d, i) => x(d + arousalDurations[i]) - x(d))
  .attr("y", panels.flow.top).attr("height", panels.flow.bottom - panels.flow.top)
  .attr("fill", "#c0fcc0");

// ---------------- grid ----------------
const grid = svg.append("g").attr("stroke", gridStroke).attr("stroke-width", 2);
Object.values(panels).forEach(p => {
  grid.append("g").selectAll("line").data(p.grid).join("line")
    .attr("x1", 0).attr("x2", W).attr("y1", d => d).attr("y2", d => d);
  grid.append("g").selectAll("line").data(gridSeconds).join("line")
    .attr("x1", d => x(d)).attr("x2", d => x(d))
    .attr("y1", p.top).attr("y2", p.bottom);
});

// panel separators
const sep = svg.append("g");
dividers.forEach(y => {
  sep.append("rect").attr("x", 0).attr("y", y).attr("width", W).attr("height", 3).attr("fill", "#cfcab5");
  sep.append("rect").attr("x", 0).attr("y", y + 3).attr("width", W).attr("height", 2).attr("fill", "#ecebe3");
});

// ---------------- EEG ----------------
const eegG = svg.append("g").attr("clip-path", "url(#clip-eeg)");
const eegBase = [52, 124, 195, 266];
const eegGain = 1.25;
[eeg1, eeg2, eeg3, eeg4].forEach((ch, c) => {
  const y = d3.scaleLinear().domain([-100, 100])
    .range([eegBase[c] + 100 * eegGain, eegBase[c] - 100 * eegGain]);
  const line = d3.line().x((d, i) => x(i / eegRate)).y(d => y(d));
  eegG.append("path").attr("d", line(ch))
    .attr("fill", "none").attr("stroke", "#000").attr("stroke-width", 1.9);
});

// ---------------- airflow ----------------
const yFlow = d3.scaleLinear().domain([0, 160]).range([740, 580]);
const flowLine = d3.line().x(d => x(d[0])).y(d => yFlow(d[1]));
const flowG = svg.append("g").attr("clip-path", "url(#clip-flow)");
flowG.append("path").attr("d", flowLine(flow))
  .attr("fill", "none").attr("stroke", "#000").attr("stroke-width", 1.8);
flowG.append("path")
  .attr("d", flowLine(flow.filter(d => d[0] >= flowMarkedSpan[0] && d[0] <= flowMarkedSpan[1])))
  .attr("fill", "none").attr("stroke", "#22d022").attr("stroke-width", 2);

// ---------------- respiratory effort ----------------
const yEffort = d3.scaleLinear().domain([-50, 50]).range([1030, 930]);
svg.append("g").attr("clip-path", "url(#clip-effort)")
  .append("path")
  .attr("d", d3.line().x(d => x(d[0])).y(d => yEffort(d[1]))(effort))
  .attr("fill", "none").attr("stroke", "#1717ff").attr("stroke-width", 1.8);

// ---------------- SpO2 ----------------
const ySpo2 = d3.scaleLinear().domain([96, 98]).range([1140, 1118]);
const spo2Times = spo2Values.map((v, i) => spo2Start + i * spo2Step);
const stepPts = [];
spo2Values.forEach((v, i) => {
  stepPts.push([spo2Times[i] - 1.0, v], [spo2Times[i] + 1.0, v]);
});
const spo2G = svg.append("g").attr("clip-path", "url(#clip-spo2)");
spo2G.append("path")
  .attr("d", d3.line().x(d => x(d[0])).y(d => ySpo2(d[1]))(stepPts))
  .attr("fill", "none").attr("stroke", "#3a3a3a").attr("stroke-width", 2.2);
spo2G.selectAll("text").data(spo2Values).join("text")
  .attr("transform", (d, i) => `translate(${x(spo2Times[i])},${ySpo2(d) - 10}) rotate(-90)`)
  .attr("text-anchor", "start")
  .attr("dominant-baseline", "central")
  .attr("font-family", "DejaVu Sans, Verdana, sans-serif")
  .attr("font-size", 14.5)
  .attr("fill", "#333")
  .text(d => d);

// ---------------- belts ----------------
const yThorax = d3.scaleLinear().domain([-50, 100]).range([1410, 1260]);
const yAbdomen = d3.scaleLinear().domain([-40, 20]).range([1460, 1400]);
const beltG = svg.append("g").attr("clip-path", "url(#clip-belts)");
beltG.append("path")
  .attr("d", d3.line().x(d => x(d[0])).y(d => yThorax(d[1]))(thorax))
  .attr("fill", "none").attr("stroke", "#1e1e8e").attr("stroke-width", 1.8);
beltG.append("path")
  .attr("d", d3.line().curve(d3.curveMonotoneX).x(d => x(d[0])).y(d => yAbdomen(d[1]))(abdomen))
  .attr("fill", "none").attr("stroke", "#1e1e8e").attr("stroke-width", 1.8);

// ---------------- event labels ----------------
const labelG = svg.append("g").attr("clip-path", "url(#clip-flow)")
  .attr("font-family", "DejaVu Sans, Verdana, sans-serif").attr("font-size", 22.5);
const order = d3.range(apneaStarts.length).sort((a, b) => apneaDurations[a] - apneaDurations[b]);
order.forEach(i => {
  const cx = x(apneaStarts[i] + apneaDurations[i] / 2);
  const g = labelG.append("g");
  const rect = g.append("rect");
  const txt = g.append("text")
    .attr("x", cx + 1).attr("y", 374.5)
    .attr("text-anchor", "middle").attr("fill", "#000")
    .text(`${apneaType} (${apneaDurations[i].toFixed(2)}s)`);
  const w = txt.node().getComputedTextLength() + 20;
  rect.attr("x", cx - w / 2).attr("y", 351.5).attr("width", w).attr("height", 30)
    .attr("fill", "#ffffe1").attr("stroke", "#000").attr("stroke-width", 1.3);
});

// ---------------- hypnogram strip ----------------
svg.append("rect").attr("x", 0).attr("y", 0).attr("width", W).attr("height", 9).attr("fill", "#8000ff");
const notchG = svg.append("g").attr("fill", "#a4a4a4");
epochStarts.filter(s => s > 0).forEach(s => {
  const px = x(s);
  notchG.append("path").attr("d",
    `M${px - 1.5},0 L${px + 1.5},0 L${px + 1.5},10 L${px + 4},10 L${px},15 L${px - 4},10 L${px - 1.5},10 Z`);
});
const stageG = svg.append("g");
epochStarts.forEach((s, i) => {
  const cx = x(s + 15);
  stageG.append("rect").attr("x", cx - 24).attr("y", -4).attr("width", 48).attr("height", 22)
    .attr("fill", "#ffffcc").attr("stroke", "#3a3a3a").attr("stroke-width", 1.3);
  stageG.append("text").attr("x", cx).attr("y", 13.5).attr("text-anchor", "middle")
    .attr("font-family", "DejaVu Sans, Verdana, sans-serif").attr("font-size", 22)
    .attr("fill", "#333").text(epochStages[i]);
});

// ---------------- title ----------------
svg.append("rect").attr("x", 520).attr("y", 87).attr("width", 762).attr("height", 121).attr("fill", "#fff");
svg.append("text").attr("x", 899).attr("y", 177).attr("text-anchor", "middle")
  .attr("font-family", "Liberation Sans, Arial, sans-serif").attr("font-size", 85)
  .attr("fill", "#ff0000").text(titleText);
</script>
</body>
</html>
